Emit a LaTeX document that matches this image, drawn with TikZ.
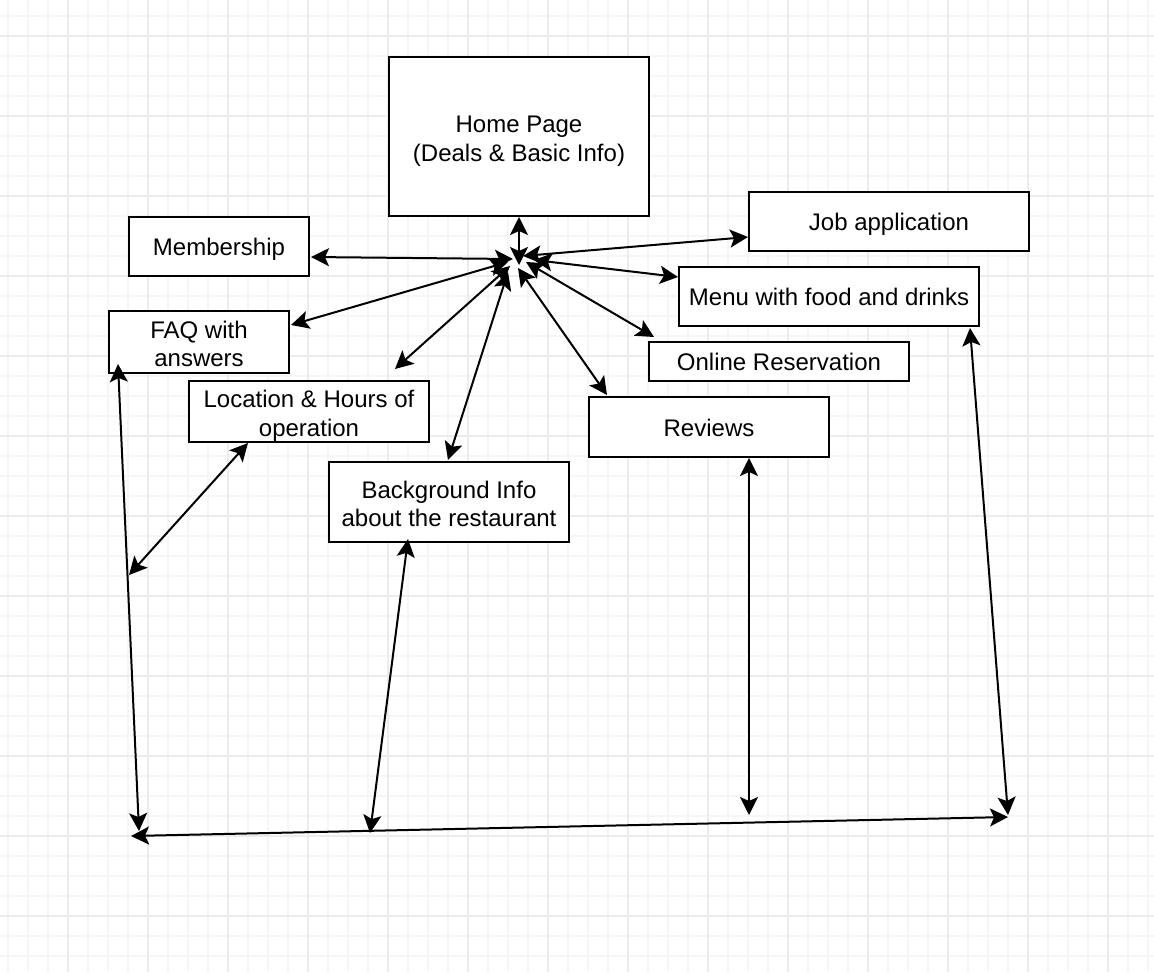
\documentclass[tikz,border=0pt]{standalone}
\usepackage{fontspec}
\setmainfont{Liberation Sans}
\usetikzlibrary{arrows.meta}
\newcommand\lnstrut{\vrule width 0pt height 24pt depth 6pt\relax}
\newcommand\mlstrut{\vrule width 0pt height 27pt depth 6pt\relax}
\AtBeginDocument{\lineskiplimit=-100pt\relax}
\begin{document}
\begin{tikzpicture}[x=1pt,y=-1pt,
  box/.style={draw=black,line width=2pt,fill=white,inner sep=0pt,align=center,
    font=\fontsize{24}{28.8}\selectfont},
  tip/.tip={Stealth[length=18pt,width=18pt,inset=4pt]},
  link/.style={line width=2pt,tip-tip},
  minorgrid/.style={draw=black!3.5,line width=1.2pt},
  majorgrid/.style={draw=black!7.5,line width=1.5pt}]
\useasboundingbox (0,0) rectangle (1154,972);
\fill[white] (0,0) rectangle (1154,972);
% grid
\foreach \x in {8,28,...,1154} \draw[minorgrid] (\x,0) -- (\x,972);
\foreach \y in {16,36,...,972} \draw[minorgrid] (0,\y) -- (1154,\y);
\foreach \x in {68,148,...,1154} \draw[majorgrid] (\x,0) -- (\x,972);
\foreach \y in {36,116,...,972} \draw[majorgrid] (0,\y) -- (1154,\y);
% boxes
\node[box,minimum width=260pt,minimum height=159pt] (home) at (519,136.5) {\mlstrut Home Page\\\mlstrut (Deals \& Basic Info)};
\node[box,minimum width=180pt,minimum height=59pt] (mem) at (219,246.5) {\lnstrut Membership};
\node[box,minimum width=280pt,minimum height=59pt] (job) at (889,221.5) {\lnstrut Job application};
\node[box,minimum width=300pt,minimum height=59pt] (menu) at (829,296.5) {\lnstrut Menu with food and drinks};
\node[box,minimum width=180pt,minimum height=60pt] (faq) at (199,342) {\mlstrut FAQ with\\\mlstrut answers};
\node[box,minimum width=260pt,minimum height=39pt] (online) at (779,361.5) {\lnstrut Online Reservation};
\node[box,minimum width=240pt,minimum height=59pt] (loc) at (309,411.5) {\mlstrut Location \& Hours of\\\mlstrut operation};
\node[box,minimum width=240pt,minimum height=60pt] (rev) at (709,427) {\lnstrut Reviews};
\node[box,minimum width=240pt,minimum height=80pt] (bg) at (449,502) {\mlstrut Background Info\\\mlstrut about the restaurant};
% connector end points
\coordinate (hHome) at (519,265);
\coordinate (hMem) at (513,259);
\coordinate (hFaq) at (508,262);
\coordinate (hLoc) at (510,266);
\coordinate (hBg) at (508,272);
\coordinate (hRev) at (518,268);
\coordinate (hOnl) at (526,262);
\coordinate (hMenu) at (534,260);
\coordinate (hJob) at (523,256);
\coordinate (pMem) at (311,257);
\coordinate (pFaq) at (291,325);
\coordinate (pLoc) at (395,369);
\coordinate (pBg) at (448,460);
\coordinate (pRev) at (607,395);
\coordinate (pOnl) at (654,337);
\coordinate (pMenu) at (678,277);
\coordinate (pJob) at (748,237);
\coordinate (fBot) at (118,364);
\coordinate (fEnd) at (139,831);
\coordinate (lBot) at (248,443);
\coordinate (lEnd) at (129,575);
\coordinate (bBot) at (408,539);
\coordinate (bEnd) at (370,833);
\coordinate (rBot) at (749,458);
\coordinate (rEnd) at (749,815);
\coordinate (mBot) at (970,328);
\coordinate (mEnd) at (1008,815);
\coordinate (baseL) at (131,836);
\coordinate (baseR) at (1008,817);
% connectors
\draw[link] (hHome) -- (home.south);
\draw[link] (hMem) -- (pMem);
\draw[link] (hFaq) -- (pFaq);
\draw[link] (hLoc) -- (pLoc);
\draw[link] (hBg) -- (pBg);
\draw[link] (hRev) -- (pRev);
\draw[link] (hOnl) -- (pOnl);
\draw[link] (hMenu) -- (pMenu);
\draw[link] (hJob) -- (pJob);
\draw[link] (fBot) -- (fEnd);
\draw[link] (lBot) -- (lEnd);
\draw[link] (bBot) -- (bEnd);
\draw[link] (rBot) -- (rEnd);
\draw[link] (mBot) -- (mEnd);
\draw[link] (baseL) -- (baseR);
\end{tikzpicture}
\end{document}
